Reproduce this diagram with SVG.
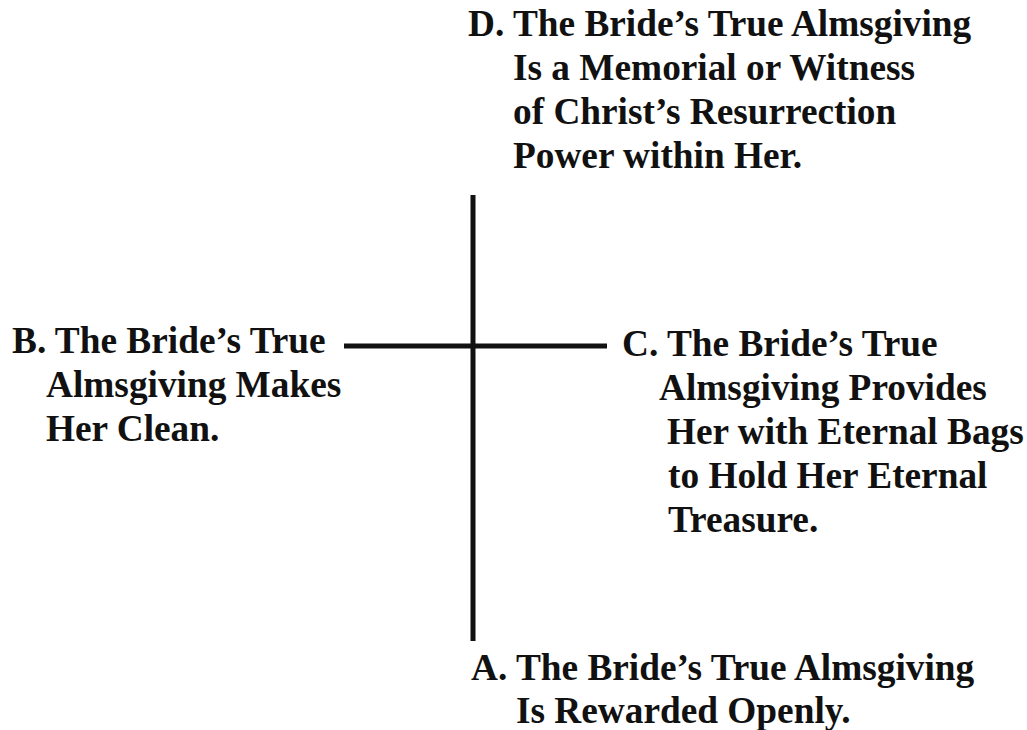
<svg xmlns="http://www.w3.org/2000/svg" width="1027" height="730" viewBox="0 0 1027 730">
<style>
text{font-family:"Liberation Serif","Times New Roman",serif;font-weight:bold;font-size:37.3px;fill:#111}
.ln{stroke:#111;stroke-width:5;fill:none}
</style>
<rect width="1027" height="730" fill="#fff"/>
<g id="connectors">
<line class="ln" x1="473" y1="195" x2="473" y2="641"/>
<line class="ln" x1="344" y1="346" x2="607" y2="346"/>
</g>
<g id="nodeD">
<text x="468" y="36">D. The Bride’s True Almsgiving</text>
<text x="513" y="80">Is a Memorial or Witness</text>
<text x="513" y="124">of Christ’s Resurrection</text>
<text x="513" y="168">Power within Her.</text>
</g>
<g id="nodeB">
<text x="12" y="353">B. The Bride’s True</text>
<text x="46" y="397">Almsgiving Makes</text>
<text x="46" y="441">Her Clean.</text>
</g>
<g id="nodeC">
<text x="622" y="356">C. The Bride’s True</text>
<text x="659" y="400">Almsgiving Provides</text>
<text x="667" y="444">Her with Eternal Bags</text>
<text x="668" y="488">to Hold Her Eternal</text>
<text x="668" y="532">Treasure.</text>
</g>
<g id="nodeA">
<text x="471" y="680">A. The Bride’s True Almsgiving</text>
<text x="516" y="723">Is Rewarded Openly.</text>
</g>
</svg>
